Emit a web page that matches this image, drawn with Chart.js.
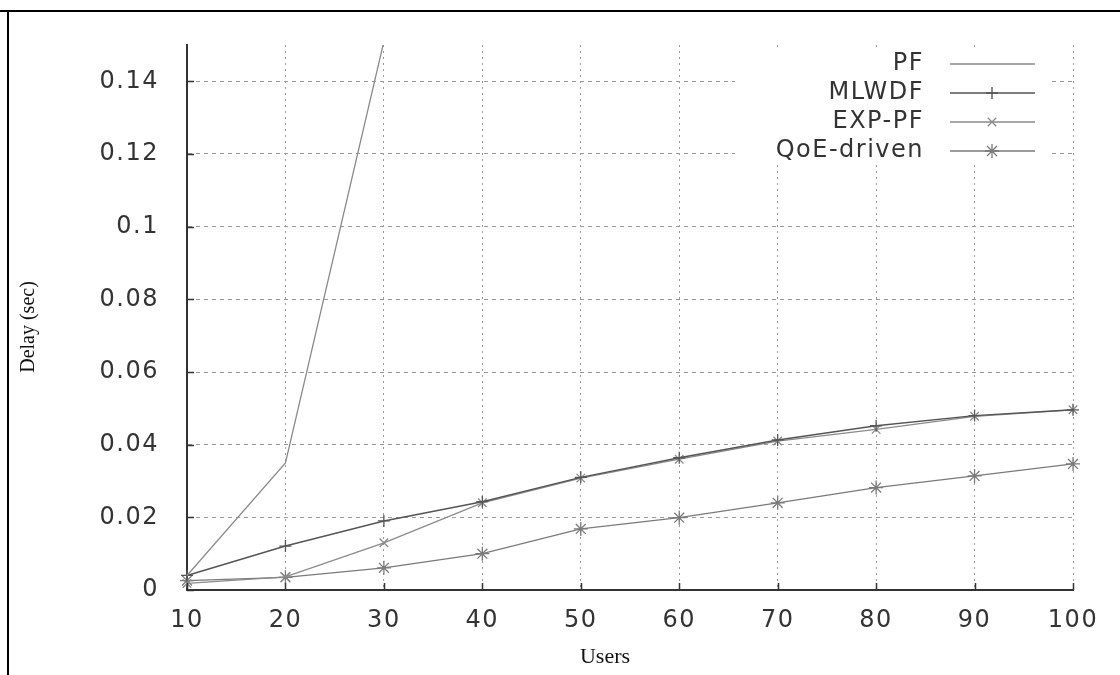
<!DOCTYPE html>
<html>
<head>
<meta charset="utf-8">
<title>Delay vs Users</title>
<script src="https://cdn.jsdelivr.net/npm/chart.js@4.4.1/dist/chart.umd.min.js"></script>
<style>
  html, body { margin: 0; padding: 0; background: #fff; }
</style>
</head>
<body>
<canvas id="grafico-delay" width="1120" height="675"></canvas>
<script>
// Datos (retardo en segundos)
const usuarios = [10, 20, 30, 40, 50, 60, 70, 80, 90, 100];
const delayPF = [0.004, 0.035, 0.151, null, null, null, null, null, null, null];
const delayMLWDF = [0.004, 0.0121, 0.019, 0.0243, 0.031, 0.0364, 0.0413, 0.0452, 0.048, 0.0496];
const delayEXPPF = [0.0018, 0.0036, 0.013, 0.024, 0.0308, 0.036, 0.041, 0.0442, 0.0478, 0.0496];
const delayQoE = [0.0026, 0.0035, 0.0061, 0.0100, 0.0168, 0.0199, 0.0240, 0.0282, 0.0314, 0.0347];

const etiquetasY = [0, 0.02, 0.04, 0.06, 0.08, 0.1, 0.12, 0.14];

const fuenteSans = 'DejaVu Sans';
const fuenteSerif = 'Liberation Serif';
const colorTexto = '#333';

// Marco, ticks hacia dentro, titulos de ejes y leyenda
const extrasGnuplot = {
  id: 'extrasGnuplot',
  beforeDraw(chart) {
    const ctx = chart.ctx;
    ctx.fillStyle = '#fff';
    ctx.fillRect(0, 0, chart.width, chart.height);
    ctx.strokeStyle = '#000';
    ctx.lineWidth = 2;
    ctx.beginPath();
    ctx.moveTo(0, 11);
    ctx.lineTo(chart.width, 11);
    ctx.moveTo(8, 11);
    ctx.lineTo(8, chart.height);
    ctx.stroke();
    // la fuente del original es mas ancha: un poco de espaciado
    ctx.letterSpacing = '1.5px';
  },
  beforeDatasetsDraw(chart) {
    const ctx = chart.ctx;
    ctx.save();
    // caja blanca de la leyenda (tapa la rejilla)
    ctx.fillStyle = '#fff';
    ctx.fillRect(735, 50, 317, 113);

    ctx.font = '24px "' + fuenteSans + '"';
    ctx.textAlign = 'right';
    ctx.textBaseline = 'middle';
    const filas = [64, 93, 122, 151];
    chart.data.datasets.forEach((ds, i) => {
      const y = filas[i];
      ctx.fillStyle = colorTexto;
      ctx.fillText(ds.label, 924, y);
      ctx.strokeStyle = ds.borderColor;
      ctx.lineWidth = ds.borderWidth;
      ctx.beginPath();
      ctx.moveTo(950, y);
      ctx.lineTo(1035, y);
      ctx.stroke();
      if (ds.pointRadius > 0 && Chart.helpers && Chart.helpers.drawPoint) {
        ctx.strokeStyle = ds.borderColor;
        ctx.fillStyle = ds.borderColor;
        Chart.helpers.drawPoint(ctx, {
          pointStyle: ds.pointStyle,
          radius: ds.pointRadius,
          rotation: 0,
          borderWidth: ds.pointBorderWidth || 1
        }, 992, y);
      }
    });
    ctx.restore();
  },
  afterDraw(chart) {
    const ctx = chart.ctx;
    const xs = chart.scales.x;
    const ys = chart.scales.y;
    const area = chart.chartArea;
    ctx.save();
    ctx.strokeStyle = colorTexto;
    ctx.lineWidth = 1.5;
    ctx.beginPath();
    ys.ticks.forEach(t => {
      const y = Math.round(ys.getPixelForValue(t.value)) + 0.5;
      ctx.moveTo(area.left, y);
      ctx.lineTo(area.left + 7, y);
    });
    usuarios.forEach((u, i) => {
      const x = Math.round(xs.getPixelForValue(i)) + 0.5;
      ctx.moveTo(x, area.bottom);
      ctx.lineTo(x, area.bottom - 7);
    });
    ctx.stroke();

    // titulos de ejes
    ctx.letterSpacing = '0px';
    ctx.fillStyle = '#111';
    ctx.textAlign = 'center';
    ctx.textBaseline = 'middle';
    ctx.font = '22px "' + fuenteSerif + '"';
    ctx.fillText('Users', 605, 657);
    ctx.translate(29, 327);
    ctx.rotate(-Math.PI / 2);
    ctx.font = '20px "' + fuenteSerif + '"';
    ctx.fillText('Delay (sec)', 0, 0);
    ctx.restore();
  }
};

const ctx = document.getElementById('grafico-delay').getContext('2d');

const grafico = new Chart(ctx, {
  type: 'line',
  data: {
    labels: usuarios,
    datasets: [
      {
        label: 'PF',
        data: delayPF,
        borderColor: '#8a8a8a',
        borderWidth: 1.3,
        pointRadius: 0,
        pointStyle: false
      },
      {
        label: 'MLWDF',
        data: delayMLWDF,
        borderColor: '#555',
        borderWidth: 1.4,
        pointStyle: 'cross',
        pointRadius: 6,
        pointBorderWidth: 1.3
      },
      {
        label: 'EXP-PF',
        data: delayEXPPF,
        borderColor: '#8a8a8a',
        borderWidth: 1.3,
        pointStyle: 'crossRot',
        pointRadius: 6,
        pointBorderWidth: 1.3
      },
      {
        label: 'QoE-driven',
        data: delayQoE,
        borderColor: '#7a7a7a',
        borderWidth: 1.3,
        pointStyle: 'star',
        pointRadius: 7,
        pointBorderWidth: 1.3
      }
    ]
  },
  options: {
    responsive: false,
    animation: false,
    devicePixelRatio: 1,
    layout: { padding: { top: 45, right: 47, left: 0, bottom: 0 } },
    elements: { line: { tension: 0, fill: false } },
    plugins: {
      legend: { display: false },
      tooltip: { enabled: false }
    },
    scales: {
      x: {
        type: 'category',
        afterFit(s) { s.height = 85; },
        ticks: {
          padding: 16,
          color: colorTexto,
          maxRotation: 0,
          autoSkip: false,
          font: { family: fuenteSans, size: 24 }
        },
        grid: {
          drawTicks: false,
          color: c => (c.index === 0 ? 'rgba(0,0,0,0)' : '#9a9a9a'),
          lineWidth: 1
        },
        border: { color: colorTexto, width: 2, dash: [2, 4] }
      },
      y: {
        min: 0,
        max: 0.15,
        afterFit(s) { s.width = 187; },
        afterBuildTicks(s) {
          s.ticks = etiquetasY.map(v => ({ value: v }));
        },
        ticks: {
          stepSize: 0.02,
          padding: 28,
          color: colorTexto,
          font: { family: fuenteSans, size: 24 },
          callback: v => String(+Number(v).toFixed(2))
        },
        grid: {
          drawTicks: false,
          color: c => (c.tick && c.tick.value === 0 ? 'rgba(0,0,0,0)' : '#9a9a9a'),
          lineWidth: 1
        },
        border: { color: colorTexto, width: 2, dash: [4, 4] }
      }
    }
  },
  plugins: [extrasGnuplot]
});
</script>
</body>
</html>
